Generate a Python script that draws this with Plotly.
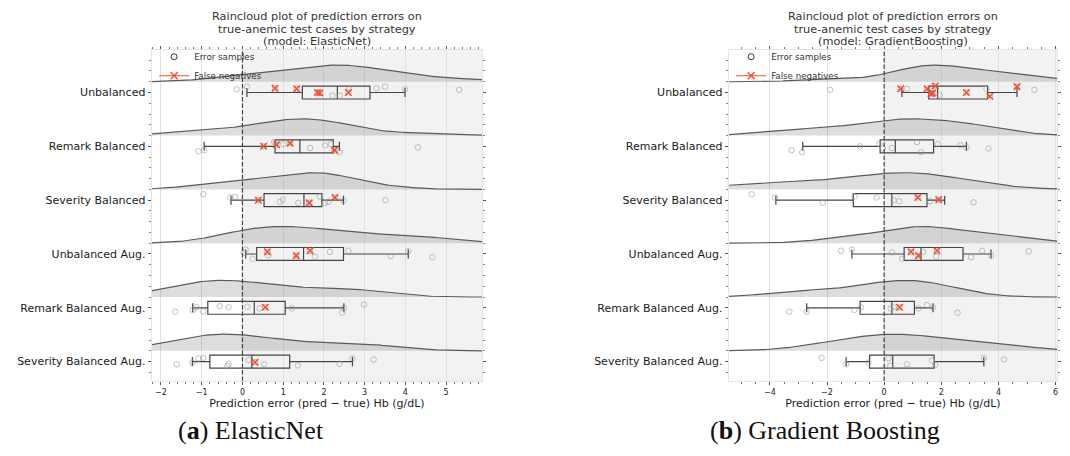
import numpy as np
import plotly.graph_objects as go

# ---------------- data ----------------
CATEGORIES = ["Unbalanced", "Remark Balanced", "Severity Balanced",
              "Unbalanced Aug.", "Remark Balanced Aug.", "Severity Balanced Aug."]

# ElasticNet: prediction errors per strategy, vertical jitter, false-negative flags
EN_ERRORS = [
    [-0.14, 0.11, 0.80, 1.33, 1.84, 1.90, 2.21, 2.39, 2.60, 2.62, 3.29, 3.50, 3.99, 5.32],
    [-1.08, -0.94, 0.52, 0.78, 0.84, 1.00, 1.17, 1.66, 2.03, 2.17, 2.26, 2.38, 4.31],
    [-0.96, -0.30, -0.18, 0.39, 0.92, 0.99, 1.37, 1.64, 1.90, 2.03, 2.11, 2.27, 2.48, 3.51],
    [0.03, 0.08, 0.25, 0.61, 0.64, 1.32, 1.66, 1.78, 2.15, 2.60, 3.64, 4.07, 4.66],
    [-1.65, -1.22, -1.13, -0.96, -0.56, -0.34, 0.12, 0.42, 0.56, 1.21, 2.45, 2.49, 2.98],
    [-1.61, -1.23, -1.08, -0.96, -0.37, -0.34, 0.15, 0.31, 0.53, 1.36, 2.38, 2.70, 3.22],
]
EN_JITTER = [
    [0.06, 0.11, 0.08, 0.07, 0.00, -0.01, -0.06, -0.06, 0.00, 0.06, 0.08, 0.11, 0.06, 0.05],
    [-0.09, -0.07, 0.00, 0.08, 0.03, 0.04, 0.06, -0.03, 0.02, 0.04, -0.07, -0.11, -0.02],
    [0.11, 0.05, 0.06, 0.00, -0.03, 0.01, -0.05, -0.05, 0.07, -0.05, -0.03, 0.05, -0.01, 0.00],
    [0.03, 0.08, -0.09, 0.04, -0.02, -0.03, 0.06, -0.05, 0.04, 0.06, -0.04, 0.05, -0.06],
    [-0.07, -0.04, 0.01, -0.07, 0.03, 0.01, 0.02, -0.01, 0.01, -0.01, -0.09, 0.00, 0.06],
    [-0.05, -0.02, 0.06, 0.07, -0.08, -0.04, 0.03, -0.01, -0.05, -0.07, -0.04, 0.06, 0.04],
]
EN_FALSE_NEG = [
    [0, 0, 1, 1, 1, 1, 0, 0, 1, 0, 0, 0, 0, 0],
    [0, 0, 1, 0, 1, 0, 1, 0, 0, 0, 1, 0, 0],
    [0, 0, 0, 1, 0, 0, 0, 1, 0, 0, 0, 1, 0, 0],
    [0, 0, 0, 1, 0, 1, 1, 0, 0, 0, 0, 0, 0],
    [0, 0, 0, 0, 0, 0, 0, 0, 1, 0, 0, 0, 0],
    [0, 0, 0, 0, 0, 0, 0, 1, 0, 0, 0, 0, 0],
]
EN_Q1 = [1.47, 0.80, 0.53, 0.35, -0.85, -0.80]
EN_MEDIAN = [2.33, 1.41, 1.51, 1.50, 0.29, 0.23]
EN_Q3 = [3.13, 2.23, 1.95, 2.48, 1.05, 1.16]
EN_LOW = [0.11, -0.94, -0.28, 0.08, -1.22, -1.23]
EN_HIGH = [3.99, 2.38, 2.48, 4.07, 2.49, 2.70]

# GradientBoosting
GB_ERRORS = [
    [-1.89, 0.58, 0.80, 1.50, 1.64, 1.70, 1.79, 1.94, 2.88, 3.58, 3.70, 4.65, 5.26],
    [-3.24, -2.87, -0.84, -0.16, -0.05, 0.27, 1.15, 1.29, 1.88, 2.67, 2.88, 3.65],
    [-4.64, -3.82, -2.15, -1.04, -0.26, 0.33, 0.53, 1.18, 1.61, 1.91, 3.13],
    [-1.51, -1.13, 0.27, 0.62, 0.94, 1.20, 1.36, 1.82, 1.85, 3.04, 3.43, 3.74, 5.06],
    [-3.32, -2.71, -1.04, -0.81, 0.23, 0.33, 0.54, 1.20, 1.50, 1.71, 2.57],
    [-2.19, -1.33, -0.55, 0.15, 0.21, 0.80, 1.67, 1.79, 3.49, 4.19],
]
GB_JITTER = [
    [0.05, 0.07, 0.07, 0.07, -0.02, -0.01, 0.12, -0.05, 0.00, 0.07, -0.07, 0.11, 0.05],
    [-0.07, -0.11, 0.00, 0.04, -0.04, -0.03, 0.08, -0.11, 0.04, 0.02, -0.02, -0.04],
    [0.11, 0.05, -0.05, 0.07, 0.05, 0.00, -0.02, 0.05, -0.02, 0.01, -0.04],
    [0.06, 0.08, 0.03, -0.09, 0.04, -0.03, 0.04, -0.05, 0.06, -0.06, 0.06, -0.03, 0.05],
    [-0.07, -0.07, -0.04, 0.01, -0.01, 0.01, 0.01, -0.01, 0.05, 0.01, -0.09],
    [0.07, -0.05, -0.02, 0.06, -0.08, -0.05, 0.02, -0.06, 0.07, 0.04],
]
GB_FALSE_NEG = [
    [0, 1, 0, 1, 1, 1, 1, 0, 1, 0, 1, 1, 0],
    [0, 0, 0, 0, 0, 0, 0, 0, 0, 0, 0, 0],
    [0, 0, 0, 0, 0, 0, 0, 1, 0, 1, 0],
    [0, 0, 0, 0, 1, 1, 0, 0, 1, 0, 0, 0, 0],
    [0, 0, 0, 0, 0, 0, 1, 0, 0, 0, 0],
    [0, 0, 0, 0, 0, 0, 0, 0, 0, 0],
]
GB_Q1 = [1.56, -0.14, -1.08, 0.70, -0.84, -0.51]
GB_MEDIAN = [1.87, 0.39, 0.27, 1.29, 0.27, 0.30]
GB_Q3 = [3.62, 1.73, 1.50, 2.76, 1.06, 1.75]
GB_LOW = [0.62, -2.85, -3.79, -1.13, -2.71, -1.33]
GB_HIGH = [4.65, 2.88, 2.12, 3.74, 1.71, 3.49]

TITLE_LINES_EN = ["Raincloud plot of prediction errors on",
                  "true-anemic test cases by strategy", "(model: ElasticNet)"]
TITLE_LINES_GB = ["Raincloud plot of prediction errors on",
                  "true-anemic test cases by strategy", "(model: GradientBoosting)"]
X_TITLE = "Prediction error (pred \u2212 true) Hb (g/dL)"
CAPTIONS = ["(<b>a</b>) ElasticNet", "(<b>b</b>) Gradient Boosting"]

# ---------------- style ----------------
W, H = 1070, 456
RED = "#f24d2c"
CIRCLE = "rgba(150,150,150,0.65)"
CLOUD_FILL = "rgba(120,120,120,0.25)"
CLOUD_LINE = "#5a5a5a"
BOX_LINE = "#444444"
CLOUD_OFFSET = 0.2
CLOUD_HEIGHT = 0.31
Y_TOP_PX, Y_BOT_PX = 50, 381

POSITIONS = [len(CATEGORIES) - 1 - i for i in range(len(CATEGORIES))]


def kde(values, grid):
    v = np.asarray(values, dtype=float)
    bw = v.std(ddof=1) * len(v) ** (-0.2)
    d = np.exp(-0.5 * ((grid[:, None] - v[None, :]) / bw) ** 2).sum(axis=1)
    return d / d.max()


panels = [
    dict(errors=EN_ERRORS, jit=EN_JITTER, fn=EN_FALSE_NEG, q1=EN_Q1, med=EN_MEDIAN,
         q3=EN_Q3, low=EN_LOW, high=EN_HIGH, xr=[-2.22, 5.88], dtick=1, minor=0.2,
         px=(152, 482), title=TITLE_LINES_EN, caption=CAPTIONS[0], cap_x=251),
    dict(errors=GB_ERRORS, jit=GB_JITTER, fn=GB_FALSE_NEG, q1=GB_Q1, med=GB_MEDIAN,
         q3=GB_Q3, low=GB_LOW, high=GB_HIGH, xr=[-5.43, 6.05], dtick=2, minor=0.5,
         px=(729, 1057), title=TITLE_LINES_GB, caption=CAPTIONS[1], cap_x=825),
]

fig = go.Figure()
annotations = []
shapes = []
ydom = [(H - Y_BOT_PX) / H, (H - Y_TOP_PX) / H]

for k, p in enumerate(panels):
    sfx = "" if k == 0 else str(k + 1)
    xa, ya = "x" + sfx, "y" + sfx
    leg = "legend" + sfx
    grid = np.linspace(p["xr"][0], p["xr"][1], 400)

    # clouds (half KDE)
    for i, vals in enumerate(p["errors"]):
        base = POSITIONS[i] + CLOUD_OFFSET
        dens = kde(vals, grid)
        fig.add_trace(go.Scatter(x=grid, y=np.full_like(grid, base), mode="lines",
                                 line=dict(width=0, color="rgba(0,0,0,0)"),
                                 showlegend=False, hoverinfo="skip", xaxis=xa, yaxis=ya))
        fig.add_trace(go.Scatter(x=grid, y=base + CLOUD_HEIGHT * dens, mode="lines",
                                 fill="tonexty", fillcolor=CLOUD_FILL,
                                 line=dict(width=1.2, color=CLOUD_LINE),
                                 showlegend=False, hoverinfo="skip", xaxis=xa, yaxis=ya))

    # boxes
    fig.add_trace(go.Box(orientation="h", y=POSITIONS, q1=p["q1"], median=p["med"],
                         q3=p["q3"], lowerfence=p["low"], upperfence=p["high"],
                         width=0.24, whiskerwidth=0.7, fillcolor="rgba(0,0,0,0)",
                         line=dict(color=BOX_LINE, width=1.2), boxpoints=False,
                         showlegend=False, hoverinfo="skip", xaxis=xa, yaxis=ya))

    # points
    xs, ys, fx, fy = [], [], [], []
    for i, vals in enumerate(p["errors"]):
        for v, j, f in zip(vals, p["jit"][i], p["fn"][i]):
            xs.append(v)
            ys.append(POSITIONS[i] + j)
            if f:
                fx.append(v)
                fy.append(POSITIONS[i] + j)
    fig.add_trace(go.Scatter(x=xs, y=ys, mode="markers",
                             marker=dict(symbol="circle-open", size=5.5, color=CIRCLE,
                                         line=dict(width=0.9, color=CIRCLE)),
                             showlegend=False, xaxis=xa, yaxis=ya))
    fig.add_trace(go.Scatter(x=fx, y=fy, mode="markers",
                             marker=dict(symbol="x-thin", size=6.5, color=RED,
                                         line=dict(width=1.5, color=RED)),
                             showlegend=False, xaxis=xa, yaxis=ya))

    # legend entries
    fig.add_trace(go.Scatter(x=[None], y=[None], mode="markers", name="Error samples",
                             marker=dict(symbol="circle-open", size=6, color="#333",
                                         line=dict(width=1, color="#333")),
                             legend=leg, xaxis=xa, yaxis=ya))
    fig.add_trace(go.Scatter(x=[None], y=[None], mode="lines+markers", name="False negatives",
                             line=dict(color=RED, width=1.2),
                             marker=dict(symbol="x-thin", size=7, color=RED,
                                         line=dict(width=1.4, color=RED)),
                             legend=leg, xaxis=xa, yaxis=ya))

    xdom = [p["px"][0] / W, p["px"][1] / W]
    axis_common = dict(ticks="outside", tickcolor="#555", tickwidth=0.8, ticklen=3.5,
                       showline=True, linecolor="#e4e4e4", linewidth=0.8, mirror="ticks",
                       zeroline=False, automargin=False)
    fig.update_layout(**{
        "xaxis" + sfx: dict(domain=xdom, range=p["xr"], anchor=ya, tickmode="linear",
                            tick0=0, dtick=p["dtick"], tickfont=dict(size=8, color="#222"),
                            showgrid=True, gridcolor="#e0e0e0", gridwidth=0.8,
                            minor=dict(tickmode="linear", tick0=0, dtick=p["minor"],
                                       ticks="outside", ticklen=2, tickcolor="#777",
                                       tickwidth=0.6, showgrid=False),
                            title=dict(text=X_TITLE, font=dict(size=11, color="#222"),
                                       standoff=3),
                            **axis_common),
        "yaxis" + sfx: dict(domain=ydom, range=[-0.36, 5.79], anchor=xa, tickmode="array",
                            tickvals=POSITIONS, ticktext=CATEGORIES,
                            tickfont=dict(size=11, color="#1a1a1a"), showgrid=False,
                            minor=dict(tickmode="linear", tick0=0, dtick=0.2,
                                       ticks="outside", ticklen=2, tickcolor="#888",
                                       tickwidth=0.6, showgrid=False),
                            **axis_common),
        leg: dict(x=xdom[0] + 0.002, y=ydom[1] + 0.017, xanchor="left", yanchor="top",
                  traceorder="normal",
                  font=dict(size=8.7, color="#333"), bgcolor="rgba(0,0,0,0)",
                  borderwidth=0, tracegroupgap=0, itemwidth=30),
    })

    # shaded positive-error region and zero reference line
    shapes.append(dict(type="rect", xref=xa, yref=ya + " domain", x0=0, x1=p["xr"][1],
                       y0=0, y1=1, fillcolor="#f2f2f2", line=dict(width=0), layer="below"))
    shapes.append(dict(type="line", xref=xa, yref=ya + " domain", x0=0, x1=0, y0=0, y1=1,
                       line=dict(color="#444", width=1.2, dash="4.5px,2px"), layer="above"))

    # titles
    cx = (p["px"][0] + p["px"][1]) / 2 / W
    for li, (txt, ypx) in enumerate(zip(p["title"], [16, 29, 42])):
        annotations.append(dict(text=txt, x=cx, y=1 - ypx / H, xref="paper", yref="paper",
                                xanchor="center", yanchor="middle", showarrow=False,
                                font=dict(size=11.3, color="#333")))
    annotations.append(dict(text=p["caption"], x=p["cap_x"] / W, y=1 - 430 / H,
                            xref="paper", yref="paper", xanchor="center", yanchor="middle",
                            showarrow=False,
                            font=dict(size=26, color="#111", family="Liberation Serif")))

fig.update_layout(width=W, height=H, margin=dict(l=0, r=0, t=0, b=0),
                  paper_bgcolor="white", plot_bgcolor="white",
                  font=dict(family="DejaVu Sans", color="#222"),
                  shapes=shapes, annotations=annotations, showlegend=True)

fig.write_html("out.html")
